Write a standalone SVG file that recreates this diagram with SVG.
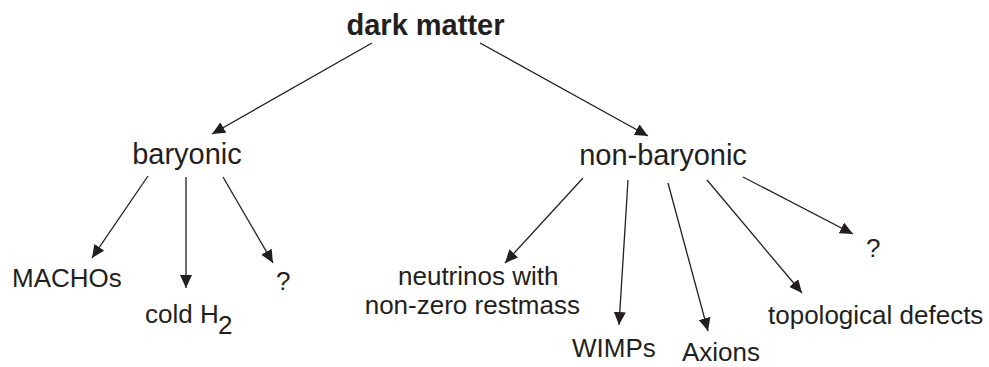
<svg xmlns="http://www.w3.org/2000/svg" width="989" height="367" viewBox="0 0 989 367">
<defs>
<style>
text{font-family:"Liberation Sans",Arial,Helvetica,sans-serif;fill:#231f20}
.t{font-size:29px;font-weight:bold}
.m{font-size:29px}
.l{font-size:26px}
.c line{stroke:#231f20;stroke-width:1.3;marker-end:url(#ah)}
</style>
<marker id="ah" markerUnits="userSpaceOnUse" viewBox="0 0 13 12" markerWidth="13" markerHeight="12" refX="13" refY="6" orient="auto">
<path d="M0,0 L13,6 L0,12 z" fill="#231f20"/>
</marker>
</defs>
<rect width="989" height="367" fill="#fff"/>
<g id="n-dark-matter"><text class="t" x="425.5" y="35" text-anchor="middle">dark matter</text></g>
<g id="n-baryonic"><text class="m" x="187" y="164" text-anchor="middle">baryonic</text></g>
<g id="n-non-baryonic"><text class="m" x="663" y="165" text-anchor="middle">non-baryonic</text></g>
<g id="n-machos"><text class="l" x="12" y="287">MACHOs</text></g>
<g id="n-cold-h2"><text class="l" x="145" y="323">cold H</text><text class="l" x="218" y="334">2</text></g>
<g id="n-q1"><text class="l" x="276" y="290">?</text></g>
<g id="n-neutrinos"><text class="l" x="398" y="285">neutrinos with</text><text class="l" x="580" y="314" text-anchor="end">non-zero restmass</text></g>
<g id="n-wimps"><text class="l" x="572" y="357">WIMPs</text></g>
<g id="n-axions"><text class="l" x="682" y="361">Axions</text></g>
<g id="n-topological"><text class="l" x="768" y="324">topological defects</text></g>
<g id="n-q2"><text class="l" x="866" y="257">?</text></g>
<g id="connectors" class="c">
<line x1="372" y1="43" x2="212" y2="134"/>
<line x1="480" y1="43" x2="648" y2="136"/>
<line x1="148" y1="176" x2="92" y2="258"/>
<line x1="186" y1="177" x2="186" y2="288"/>
<line x1="223" y1="177" x2="273" y2="263"/>
<line x1="583" y1="178" x2="505" y2="263"/>
<line x1="628" y1="180" x2="619" y2="325"/>
<line x1="668" y1="183" x2="708" y2="331"/>
<line x1="707" y1="180" x2="802" y2="293"/>
<line x1="743" y1="177" x2="853" y2="234"/>
</g>
</svg>
